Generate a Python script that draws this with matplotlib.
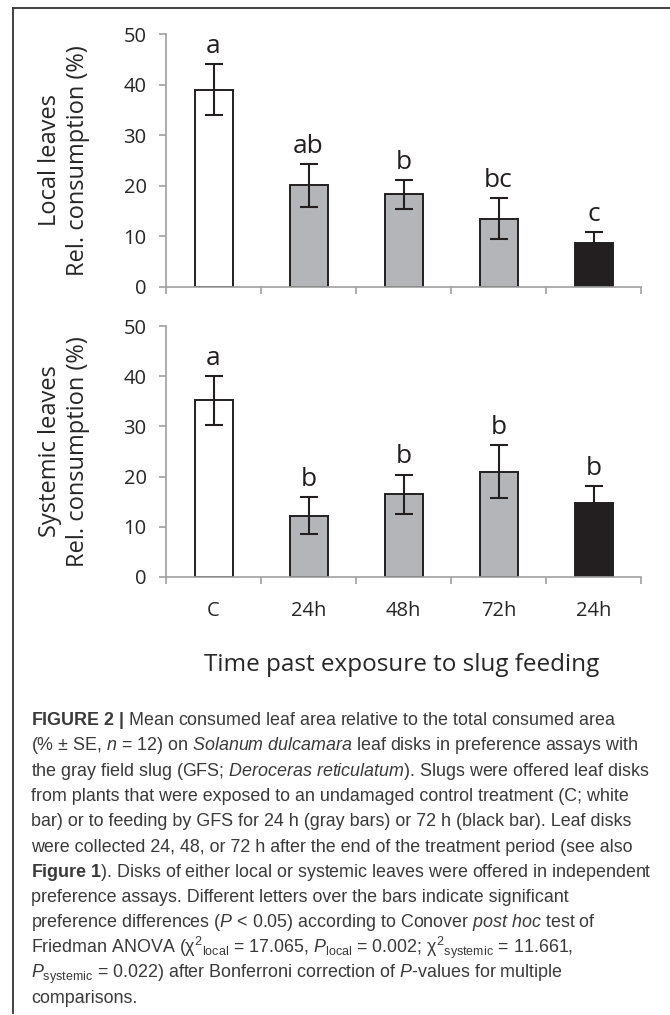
import numpy as np
import matplotlib
matplotlib.use('Agg')
import matplotlib.pyplot as plt
from matplotlib import font_manager
from matplotlib.lines import Line2D


# data
groups = ['C', '24h', '48h', '72h', '24h']
bar_colors = ['white', '#b4b5b8', '#b4b5b8', '#b4b5b8', '#231f20']

local_mean = [39.0, 20.1, 18.3, 13.5, 8.7]
local_se = [5.0, 4.2, 2.9, 4.1, 2.1]
local_letters = ['a', 'ab', 'b', 'bc', 'c']

systemic_mean = [35.2, 12.2, 16.5, 21.0, 14.7]
systemic_se = [4.9, 3.7, 3.9, 5.2, 3.5]
systemic_letters = ['a', 'b', 'b', 'b', 'b']

caption = [
	r"$\mathbf{FIGURE\ 2\ |}$ Mean consumed leaf area relative to the total consumed area",
	r"(% $\pm$ SE, $\mathit{n}$ = 12) on $\mathit{Solanum\ dulcamara}$ leaf disks in preference assays with",
	r"the gray field slug (GFS; $\mathit{Deroceras\ reticulatum}$). Slugs were offered leaf disks",
	"from plants that were exposed to an undamaged control treatment (C; white",
	"bar) or to feeding by GFS for 24 h (gray bars) or 72 h (black bar). Leaf disks",
	"were collected 24, 48, or 72 h after the end of the treatment period (see also",
	r"$\mathbf{Figure\ 1}$). Disks of either local or systemic leaves were offered in independent",
	"preference assays. Different letters over the bars indicate significant",
	r"preference differences ($\mathit{P}$ < 0.05) according to Conover $\mathit{post\ hoc}$ test of",
	r"Friedman ANOVA ($\mathrm{χ}^{2}{}_{\mathrm{local}}$ = 17.065, $\mathit{P}_{\mathrm{local}}$ = 0.002; $\mathrm{χ}^{2}{}_{\mathrm{systemic}}$ = 11.661,",
	r"$\mathit{P}_{\mathrm{systemic}}$ = 0.022) after Bonferroni correction of $\mathit{P}$-values for multiple",
	"comparisons.",
]

W, H = 670, 1015
names = {f.name for f in font_manager.fontManager.ttflist}
cap_font = 'Liberation Sans Narrow' if 'Liberation Sans Narrow' in names else 'Liberation Sans'
chart_font = 'Open Sans'

plt.rcParams['mathtext.fontset'] = 'custom'
plt.rcParams['mathtext.rm'] = cap_font
plt.rcParams['mathtext.it'] = cap_font + ':italic'
plt.rcParams['mathtext.bf'] = cap_font + ':bold'

ink = '#231f20'
spine = '#a0a0a0'
txt = '#262626'


def fx(px):
	return px / W


def fy(py):
	return 1 - py / H


def panel(ax, means, ses, letters, ylabel, show_x):
	x = np.arange(len(groups))
	ax.bar(x, means, width=0.4, color=bar_colors, edgecolor=ink, linewidth=1.4, zorder=2)
	ax.errorbar(x, means, yerr=ses, fmt='none', ecolor=ink, elinewidth=1.5,
				capsize=6.5, capthick=1.5, zorder=3)
	for xi, m, s, t in zip(x, means, ses, letters):
		ax.annotate(t, (xi, m + s), xytext=(0, 8), textcoords='offset points',
					ha='center', va='baseline', fontsize=19, color=ink, family=chart_font)

	ax.set_xlim(-0.5, len(groups) - 0.5)
	ax.set_ylim(0, 50)
	ax.set_yticks(range(0, 51, 10))
	ax.set_xticks(np.arange(-0.5, len(groups)))
	ax.set_xticklabels([])
	ax.set_xticks(x, minor=True)
	ax.set_xticklabels(groups if show_x else [], minor=True)
	ax.tick_params(axis='x', which='major', length=5, width=1.2, color=spine, direction='out')
	ax.tick_params(axis='x', which='minor', length=0, pad=17, labelsize=14.5, labelcolor=txt)
	ax.tick_params(axis='y', length=5, width=1.2, color=spine, pad=9, labelsize=14.5, labelcolor=txt)
	for lab in ax.get_xticklabels(minor=True) + ax.get_yticklabels():
		lab.set_family(chart_font)
	for s in ['top', 'right']:
		ax.spines[s].set_visible(False)
	for s in ['left', 'bottom']:
		ax.spines[s].set_color(spine)
		ax.spines[s].set_linewidth(1.2)

	bb = ax.get_position()
	fig.text(fx(64), (bb.y0 + bb.y1) / 2, ylabel, rotation=90, ha='center', va='center',
			 multialignment='center', fontsize=17, color=txt, family=chart_font,
			 linespacing=1.25)


fig = plt.figure(figsize=(W / 100, H / 100), dpi=100)

ax1 = fig.add_axes([fx(166), fy(287), fx(641 - 166), (287 - 34) / H])
ax2 = fig.add_axes([fx(166), fy(577), fx(641 - 166), (577 - 326) / H])

panel(ax1, local_mean, local_se, local_letters, 'Local leaves\nRel. consumption (%)', False)
panel(ax2, systemic_mean, systemic_se, systemic_letters, 'Systemic leaves\nRel. consumption (%)', True)

fig.text(fx(402), fy(671), 'Time past exposure to slug feeding', ha='center', va='baseline',
		 fontsize=17.5, color=txt, family=chart_font)

# frame (top and left rule)
fig.add_artist(Line2D([fx(13), 1], [fy(8), fy(8)], color='#333333', lw=1.3))
fig.add_artist(Line2D([fx(13), fx(13)], [fy(8), fy(1013)], color='#333333', lw=1.3))

# caption, sized so the third line spans the measured width
probe = fig.text(fx(31), fy(770), caption[2], fontsize=12, family=cap_font)
fig.canvas.draw()
wpx = probe.get_window_extent().width
probe.remove()
cap_size = 12 * 615 / wpx

y0, step = 725, 25.3
for i, line in enumerate(caption):
	fig.text(fx(31), fy(y0 + i * step), line, ha='left', va='baseline',
			 fontsize=cap_size, color='#3a3a3a', family=cap_font)

fig.savefig('out.png', dpi=100)
